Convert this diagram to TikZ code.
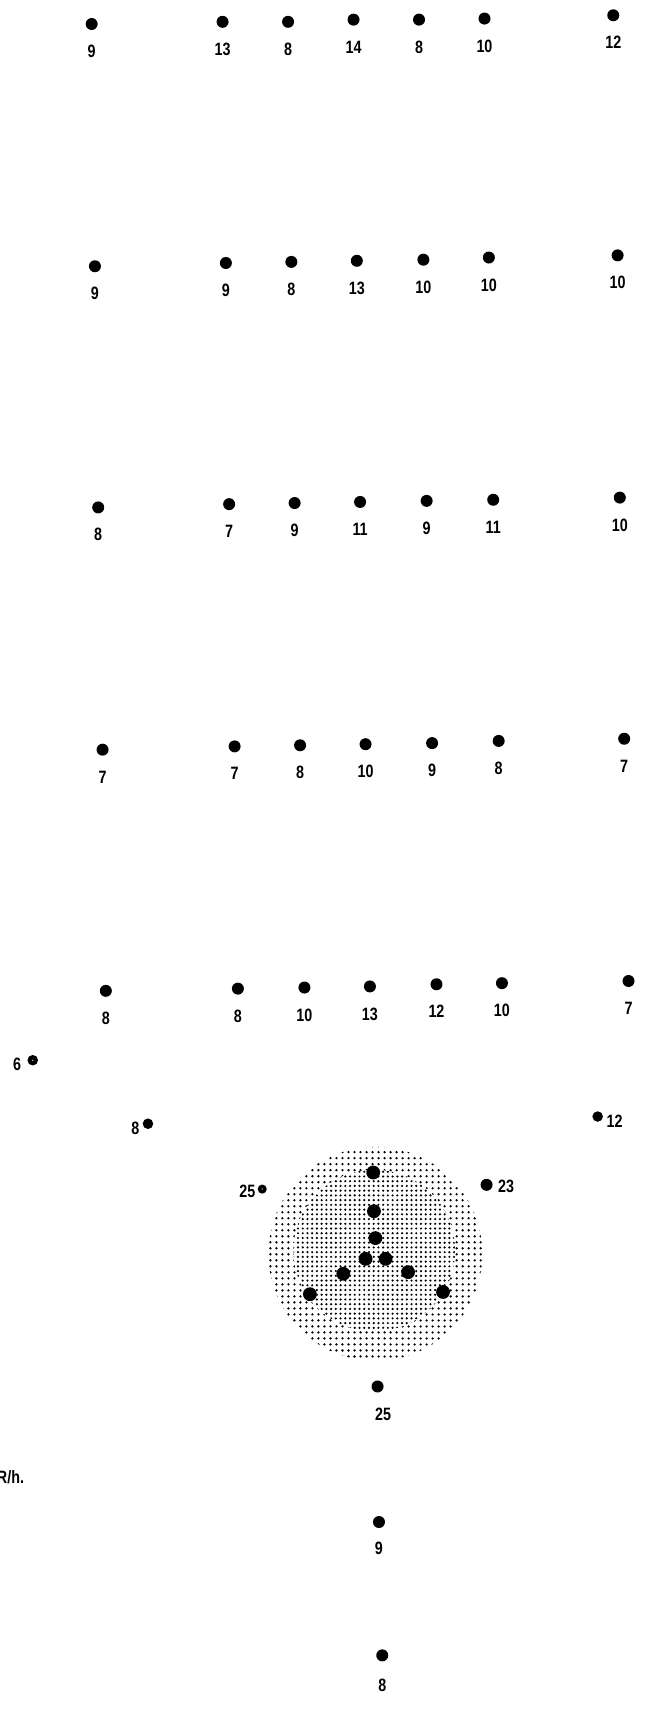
\documentclass[tikz,border=0pt]{standalone}
\usepackage{fontspec}
\setsansfont{Liberation Sans}[FakeStretch=0.8]
\usetikzlibrary{positioning, patterns.meta}

\begin{document}
\begin{tikzpicture}[x=0.03cm, y=-0.03cm,
    dot/.style={circle, fill, inner sep=0pt, minimum size=0.33cm},
    bigdot/.style={dot, minimum size=0.38cm},
    smalldot/.style={dot, minimum size=0.29cm},
    ringdot/.style={smalldot, path picture={\fill[white] (path picture bounding box.center) circle (0.5pt);}},
    num/.style={font=\sffamily\bfseries\fontsize{14}{16}\selectfont, inner sep=0pt},
    node distance=0.4cm]
  \useasboundingbox (0,0) rectangle (591,1568);

  % stippled zone round the source
  \path[pattern={Dots[distance=4.7pt, radius=1pt]}] (344,1149) circle[radius=98];
  \fill[white] (343,1146) circle[radius=74];
  \path[pattern={Dots[distance=3.7pt, radius=0.95pt]}] (343,1146) circle[radius=74];

  % measuring rows
  \foreach \x/\y/\n [count=\i] in {84/22/9, 204/20/13, 264/20/8, 324/18/14, 384/18/8, 444/17/10, 562/14/12} {
    \node[dot] (a\i) at (\x,\y) {};
    \node[num, below=of a\i] (la\i) {\n};
  }
  \foreach \x/\y/\n [count=\i] in {87/244/9, 207/241/9, 267/240/8, 327/239/13, 388/238/10, 448/236/10, 566/234/10} {
    \node[dot] (b\i) at (\x,\y) {};
    \node[num, below=of b\i] (lb\i) {\n};
  }
  \foreach \x/\y/\n [count=\i] in {90/465/8, 210/462/7, 270/461/9, 330/460/11, 391/459/9, 452/458/11, 568/456/10} {
    \node[dot] (c\i) at (\x,\y) {};
    \node[num, below=of c\i] (lc\i) {\n};
  }
  \foreach \x/\y/\n [count=\i] in {94/687/7, 215/684/7, 275/683/8, 335/682/10, 396/681/9, 457/679/8, 572/677/7} {
    \node[dot] (d\i) at (\x,\y) {};
    \node[num, below=of d\i] (ld\i) {\n};
  }
  \foreach \x/\y/\n [count=\i] in {97/908/8, 218/906/8, 279/905/10, 339/904/13, 400/902/12, 460/901/10, 576/899/7} {
    \node[dot] (e\i) at (\x,\y) {};
    \node[num, below=of e\i] (le\i) {\n};
  }

  % points round the zone
  \node[ringdot] (p6) at (30,971.6) {};
  \node[num, left=0.16cm of p6, yshift=-0.12cm] (lp6) {6};
  \node[smalldot] (p8) at (135.6,1029.8) {};
  \node[num, left=0.08cm of p8, yshift=-0.12cm] (lp8) {8};
  \node[ringdot, minimum size=0.25cm] (p25) at (240.3,1089.7) {};
  \node[num, left=0.05cm of p25, yshift=-0.06cm] (lp25) {25};
  \node[dot] (p23) at (445.9,1085.8) {};
  \node[num, right=0.14cm of p23, yshift=-0.05cm] (lp23) {23};
  \node[smalldot] (p12) at (547.7,1023.2) {};
  \node[num, right=0.09cm of p12, yshift=-0.13cm] (lp12) {12};

  % points inside the zone
  \foreach \x/\y [count=\i] in {342/1074.5, 342.7/1110, 344/1134.6, 335/1153.6, 353.4/1153.6,
      314.6/1167.3, 374/1165.8, 284/1186, 406/1184} {
    \node[bigdot] (s\i) at (\x,\y) {};
  }

  % line below the zone
  \node[dot] (f1) at (346,1270.6) {};
  \node[num, below=0.42cm of f1, xshift=0.15cm] (lf1) {25};
  \node[dot] (f2) at (347.3,1394.8) {};
  \node[num, below=0.38cm of f2] (lf2) {9};
  \node[dot] (f3) at (350.3,1517) {};
  \node[num, below=0.48cm of f3] (lf3) {8};

  \node[num, anchor=west] (unit) at (-3,1354) {R/h.};
\end{tikzpicture}
\end{document}
